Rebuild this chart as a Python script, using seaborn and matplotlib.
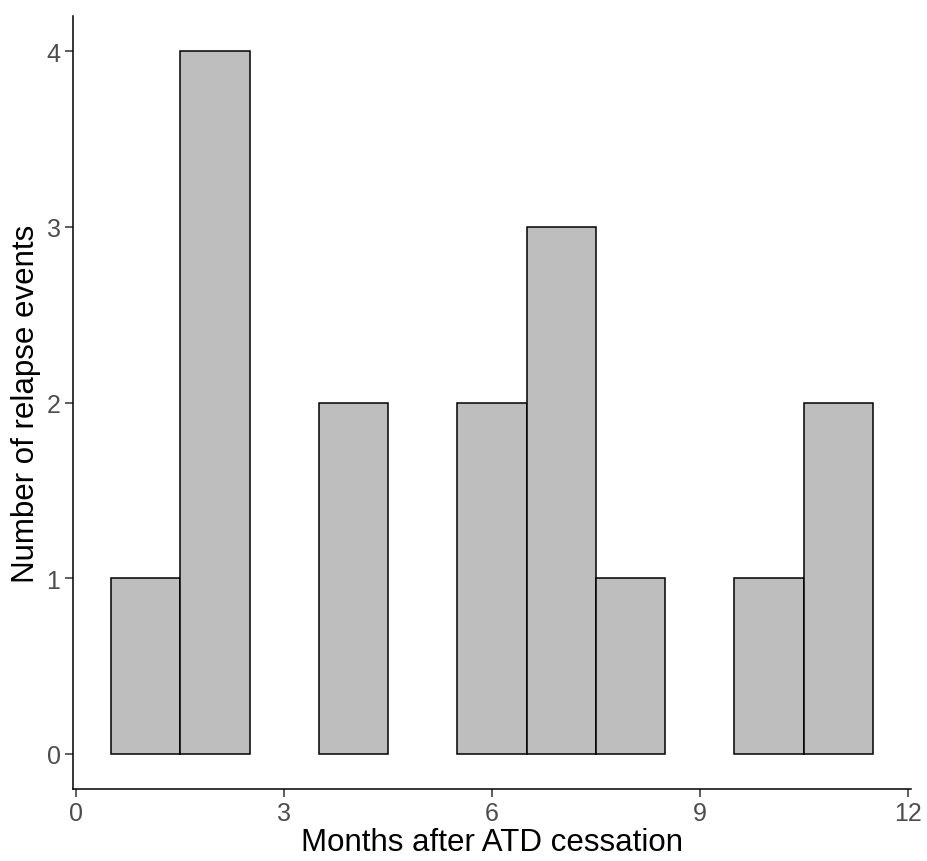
import numpy as np
import pandas as pd
import matplotlib
matplotlib.use("Agg")
import matplotlib.pyplot as plt
import seaborn as sns

# Relapse events per month after antithyroid drug (ATD) cessation
months = [1, 2, 3, 4, 5, 6, 7, 8, 9, 10, 11]
events = [1, 4, 0, 2, 0, 2, 3, 1, 0, 1, 2]
x_ticks = [0, 3, 6, 9, 12]
y_ticks = [0, 1, 2, 3, 4]

# one row per relapse event, recorded at its month
df = pd.DataFrame({"month": np.repeat(months, events)})

sns.set_theme(style="ticks")
plt.rcParams["font.family"] = ["Liberation Sans", "DejaVu Sans"]

fig = plt.figure(figsize=(9.27, 8.62), dpi=100)
ax = fig.add_axes([73 / 927, 1 - 790 / 862, (911 - 73) / 927, (790 - 17) / 862])

sns.histplot(
    data=df, x="month", binwidth=1, binrange=(0.5, 11.5),
    color="#BEBEBE", edgecolor="black", linewidth=1.1, alpha=1.0, ax=ax,
)
# empty bins are not drawn
for patch in ax.patches:
    if patch.get_height() == 0:
        patch.set_visible(False)

ax.set_xlim(-0.05, 12.05)
ax.set_ylim(-0.2, 4.2)
ax.set_xticks(x_ticks)
ax.set_yticks(y_ticks)
ax.tick_params(axis="both", labelsize=18, labelcolor="#4D4D4D", color="#333333",
               length=6, width=1.1, direction="out", pad=3)
for side in ("top", "right"):
    ax.spines[side].set_visible(False)
for side in ("left", "bottom"):
    ax.spines[side].set_linewidth(1.1)
    ax.spines[side].set_color("black")

ax.set_xlabel("Months after ATD cessation", fontsize=22.5, color="black", labelpad=1)
ax.set_ylabel("Number of relapse events", fontsize=22.5, color="black", labelpad=4)

fig.savefig("out.png", dpi=100)
